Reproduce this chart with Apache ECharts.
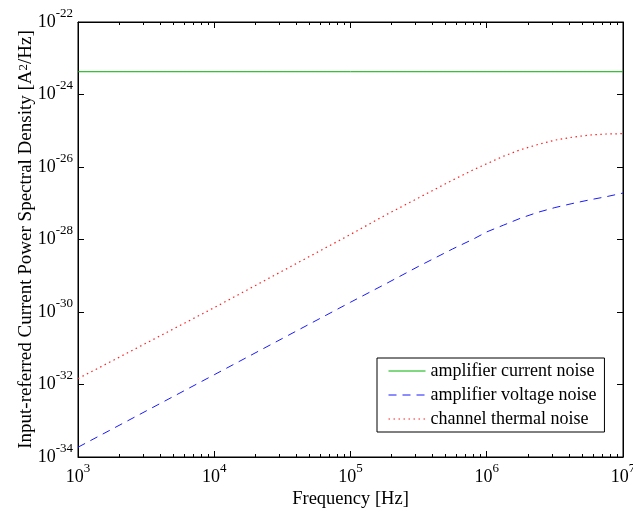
<!DOCTYPE html>
<html>
<head>
<meta charset="utf-8">
<script src="https://cdn.jsdelivr.net/npm/echarts@6/dist/echarts.min.js"></script>
<style>
html,body{margin:0;padding:0;background:#fff;}
#chart{width:633px;height:515px;}
</style>
</head>
<body>
<div id="chart"></div>
<script>
// ---- data ----
const freqs = [1e3, 3162, 1e4, 31623, 1e5, 177828, 316228, 562341, 794328, 1e6,
  1333521, 1778279, 2371374, 3162278, 4216965, 5623413, 7498942, 1e7];
const voltageNoise = [1.86e-34, 1.86e-33, 1.86e-32, 1.86e-31, 1.86e-30, 5.75e-30, 1.82e-29,
  5.50e-29, 1.02e-28, 1.62e-28, 2.51e-28, 3.89e-28, 5.62e-28, 7.59e-28, 9.77e-28,
  1.23e-27, 1.51e-27, 1.91e-27];
const thermalNoise = [1.45e-32, 1.38e-31, 1.32e-30, 1.35e-29, 1.38e-28, 4.57e-28, 1.41e-27,
  4.37e-27, 8.32e-27, 1.23e-26, 2.00e-26, 3.02e-26, 4.17e-26, 5.50e-26, 6.61e-26,
  7.59e-26, 8.13e-26, 8.32e-26];
const currentFreqs = [1e3, 1e7];
const currentNoise = [4.25e-24, 4.25e-24];
const seriesNames = ['amplifier current noise', 'amplifier voltage noise', 'channel thermal noise'];
const xTickExps = [3, 4, 5, 6, 7];
const yTickExps = [-34, -32, -30, -28, -26, -24, -22];
const minorMultipliers = [2, 3, 4, 5, 6, 7, 8, 9];

// ---- build options ----
const FONT = 'Liberation Serif';
const xMinor = [];
for (let i = 0; i < xTickExps.length - 1; i++) {
  minorMultipliers.forEach(m => xMinor.push(m * Math.pow(10, xTickExps[i])));
}
const toPairs = (xs, ys) => xs.map((x, i) => [x, Math.log10(ys[i])]);
const yMin = yTickExps[0], yMax = yTickExps[yTickExps.length - 1];
const xMin = Math.pow(10, xTickExps[0]), xMax = Math.pow(10, xTickExps[xTickExps.length - 1]);

const rich = {
  b: {fontFamily: FONT, fontSize: 18, color: '#000', lineHeight: 30},
  s: {fontFamily: FONT, fontSize: 13, color: '#000', lineHeight: 13, verticalAlign: 'top'}
};
const blackLine = {show: true, lineStyle: {color: '#000', width: 1}};

function xAx(pos, major, labels) {
  return {
    type: 'log', logBase: 10, gridIndex: 0, position: pos, min: xMin, max: xMax,
    axisLine: major ? blackLine : {show: false},
    axisTick: major ? {show: true, inside: true, length: 6, lineStyle: {color: '#000'}}
                    : {show: true, inside: true, length: 3, customValues: xMinor, lineStyle: {color: '#000'}},
    axisLabel: labels ? {
      show: true, margin: 5, rich: rich,
      formatter: v => '{b|10}{s|' + Math.round(Math.log10(v)) + '}'
    } : {show: false},
    splitLine: {show: false},
    minorTick: {show: false}
  };
}
function yAx(pos, labels) {
  return {
    type: 'value', gridIndex: 0, position: pos, min: yMin, max: yMax, interval: 2,
    axisLine: blackLine,
    axisTick: {show: true, inside: true, length: 6, lineStyle: {color: '#000'}},
    axisLabel: labels ? {
      show: true, margin: 5, rich: rich,
      formatter: v => '{b|10}{s|' + v + '}'
    } : {show: false},
    splitLine: {show: false}
  };
}

const xAxes = [xAx('bottom', true, true), xAx('bottom', false, false), xAx('top', true, false), xAx('top', false, false)];
xAxes[0].name = 'Frequency [Hz]';
xAxes[0].nameLocation = 'middle';
xAxes[0].nameGap = 33;
xAxes[0].nameMoveOverlap = false;
xAxes[0].nameTextStyle = {fontFamily: FONT, fontSize: 18.5, color: '#000'};

const yAxes = [yAx('left', true), yAx('right', false)];
yAxes[0].name = 'Input-referred Current Power Spectral Density [A{sup|2}/Hz]';
yAxes[0].nameLocation = 'middle';
yAxes[0].nameGap = 42;
yAxes[0].nameMoveOverlap = false;
yAxes[0].nameTextStyle = {fontFamily: FONT, fontSize: 19, color: '#000',
  rich: {sup: {fontFamily: FONT, fontSize: 13, color: '#000', verticalAlign: 'top', lineHeight: 13}}};

const option = {
  backgroundColor: '#fff',
  animation: false,
  grid: {left: 78, top: 22, right: 10, bottom: 58, outerBoundsMode: 'none', containLabel: false,
    show: true, borderColor: '#000', borderWidth: 1, backgroundColor: '#fff'},
  xAxis: xAxes,
  yAxis: yAxes,
  legend: {
    orient: 'vertical', left: 377, top: 358,
    padding: [4, 8, 4, 11], itemGap: 6, itemWidth: 37, itemHeight: 14,
    backgroundColor: '#fff', borderColor: '#000', borderWidth: 1, borderRadius: 0,
    textStyle: {fontFamily: FONT, fontSize: 18, color: '#000'},
    itemStyle: {opacity: 0},
    lineStyle: {width: 1},
    data: seriesNames
  },
  series: [
    {name: seriesNames[0], type: 'line', xAxisIndex: 0, yAxisIndex: 0, symbol: 'none',
     data: toPairs(currentFreqs, currentNoise), color: '#00b000',
     lineStyle: {color: '#00b000', width: 1, type: 'solid'}},
    {name: seriesNames[1], type: 'line', xAxisIndex: 0, yAxisIndex: 0, symbol: 'none',
     data: toPairs(freqs, voltageNoise), color: '#1a1aff',
     lineStyle: {color: '#1a1aff', width: 1, type: [8, 6]}},
    {name: seriesNames[2], type: 'line', xAxisIndex: 0, yAxisIndex: 0, symbol: 'none',
     data: toPairs(freqs, thermalNoise), color: '#ff2020',
     lineStyle: {color: '#ff2020', width: 1.2, type: [1.5, 3.5]}}
  ]
};
const chart = echarts.init(document.getElementById('chart'), null, {renderer: 'canvas'});
chart.setOption(option);
</script>
</body>
</html>
